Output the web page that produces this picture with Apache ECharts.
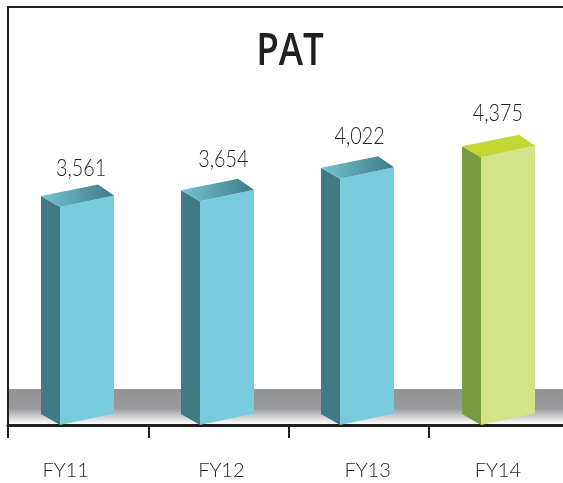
<!DOCTYPE html>
<html>
<head>
<meta charset="utf-8">
<style>html,body{margin:0;padding:0;background:#fff;overflow:hidden}#chart{width:563px;height:483px}</style>
<script src="https://cdn.jsdelivr.net/npm/echarts@6/dist/echarts.min.js"></script>
</head>
<body>
<div id="chart"></div>
<script>
var categories = ['FY11', 'FY12', 'FY13', 'FY14'];
var profit = [3561, 3654, 4022, 4375];
var chartTitle = 'PAT';

// look of the fake 3d boxes
var blue = {front: '#78cbdc', side: '#3f7a86', topFrom: '#74c4d3', topTo: '#3f7a86'};
var green = {front: '#d3e388', side: '#7b9b3f', topFrom: '#c2d733', topTo: '#c2d733'};
var frontW = 54, depthX = 19, depthY = 11, riseY = 11.5;
// hand placement of the labels, the original is not centred
var labelDx = [3, 5, 1, -1];
var labelDy = [-38, -42, -42, -44];
var catPad = [[0, 25, 0, 0], [0, 0, 0, 6], [0, 0, 0, 18], [0, 2, 0, 0]];

var chart = echarts.init(document.getElementById('chart'));

function renderBox(params, api) {
    var i = api.value(0);
    var top = api.coord([i, api.value(1)]);
    var base = api.coord([i, 0]);
    var c = categories[i] === 'FY14' ? green : blue;
    var left = Math.round(top[0] - (frontW + depthX) / 2 + depthX - 0.8);
    var right = left + frontW;
    var y = top[1], b = base[1];
    return {
        type: 'group',
        children: [
            {
                type: 'polygon',
                shape: {points: [[left - depthX, y - depthY], [left, y], [left, b], [left - depthX, b - depthY]]},
                style: {fill: c.side}
            },
            {
                type: 'polygon',
                shape: {points: [[left, y], [right, y - riseY], [right, b - riseY], [left, b]]},
                style: {fill: c.front}
            },
            {
                type: 'polygon',
                shape: {points: [[left - depthX, y - depthY], [left, y], [right, y - riseY], [right - 16, y - riseY - depthY]]},
                style: {
                    fill: new echarts.graphic.LinearGradient(0, 0, 1, 0, [
                        {offset: 0, color: c.topFrom},
                        {offset: 1, color: c.topTo}
                    ])
                }
            },
            {
                type: 'text',
                x: top[0] + labelDx[i],
                y: y + labelDy[i],
                scaleX: 0.86,
                style: {
                    text: echarts.format.addCommas(api.value(1)),
                    align: 'center',
                    verticalAlign: 'middle',
                    fill: '#231f20',
                    font: '300 23px Lato'
                }
            }
        ]
    };
}

chart.setOption({
    animation: false,
    grid: {
        show: true,
        outerBoundsMode: 'none',
        left: 8,
        top: 7,
        width: 561,
        height: 418,
        borderColor: '#231f20',
        borderWidth: 2
    },
    graphic: [{
        type: 'rect',
        z: -1,
        shape: {x: 8, y: 389, width: 555, height: 35},
        style: {
            fill: new echarts.graphic.LinearGradient(0, 0, 0, 1, [
                {offset: 0, color: '#939498'},
                {offset: 0.55, color: '#98999c'},
                {offset: 1, color: '#ffffff'}
            ])
        }
    }, {
        type: 'text',
        x: 290,
        y: 52,
        scaleX: 0.8,
        style: {
            text: chartTitle,
            align: 'center',
            verticalAlign: 'middle',
            fill: '#231f20',
            font: '600 46px "Open Sans"'
        }
    }],
    xAxis: {
        type: 'category',
        data: categories.map(function (name, i) {
            return {value: name, textStyle: {padding: catPad[i]}};
        }),
        axisLine: {lineStyle: {color: '#231f20', width: 3}},
        axisTick: {show: true, length: 13, lineStyle: {color: '#231f20', width: 2}},
        axisLabel: {margin: 36, fontFamily: 'Lato', fontWeight: 300, fontSize: 20, color: '#231f20'}
    },
    yAxis: {
        type: 'value',
        min: 0,
        max: 6830,
        show: false,
        splitLine: {show: false}
    },
    series: [{
        type: 'custom',
        renderItem: renderBox,
        clip: false,
        encode: {x: 0, y: 1},
        data: profit.map(function (v, i) { return [i, v]; })
    }]
});
</script>
</body>
</html>
